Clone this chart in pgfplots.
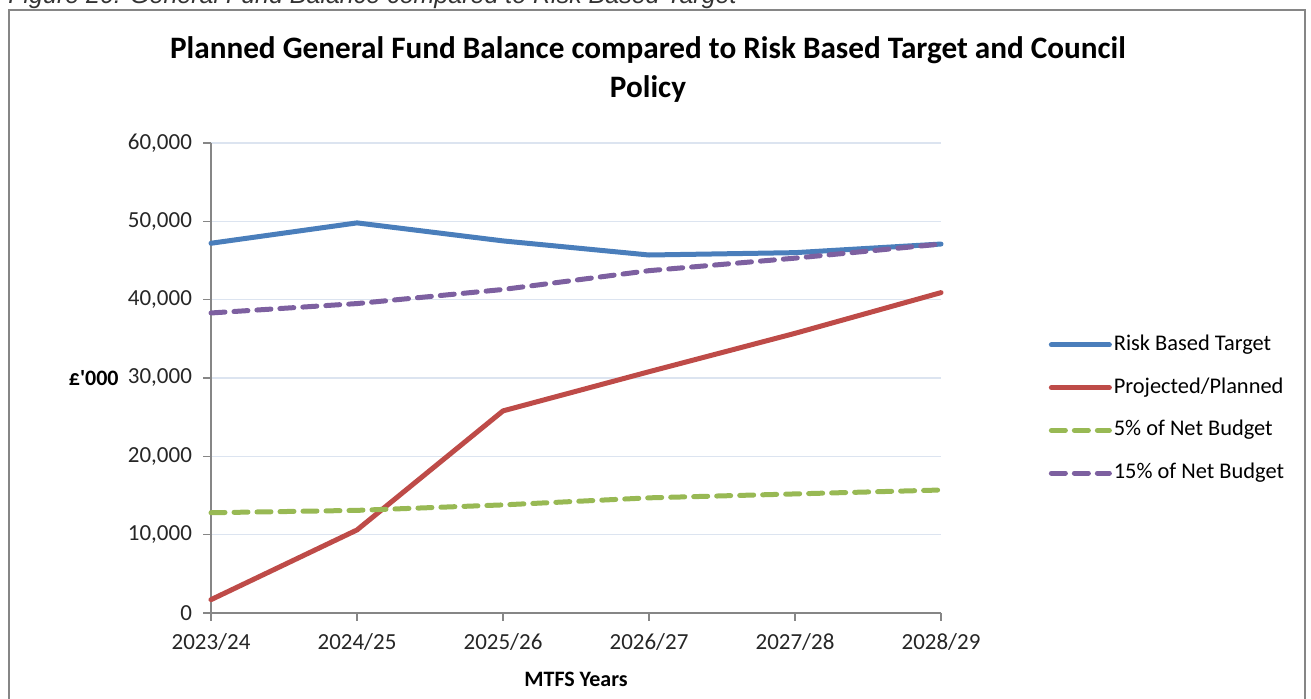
\documentclass[border=0pt]{standalone}
\usepackage{fontspec}
\setmainfont{Carlito}
\newfontfamily\capfont{Liberation Sans}
\newfontfamily\rawfont{Carlito}[Ligatures=TeXOff]
\usepackage{pgfplots}
\pgfplotsset{compat=1.18}
\definecolor{cblue}{HTML}{4A7EBB}
\definecolor{cred}{HTML}{BE4B48}
\definecolor{cgreen}{HTML}{98B954}
\definecolor{cpurple}{HTML}{7D60A0}
\definecolor{gridc}{HTML}{DCE4F0}
\definecolor{axc}{HTML}{868686}
\begin{document}
\begin{tikzpicture}[x=0.5pt,y=0.5pt]
\useasboundingbox (0,0) rectangle (1311,699);
\begin{scope}
\clip (0,0) rectangle (1311,699);
\node[anchor=base west, inner sep=0pt, font=\capfont\itshape\fontsize{12.5pt}{14pt}\selectfont, text=black!80] at (8,695) {Figure 20: General Fund Balance compared to Risk Based Target};
\draw[axc, line width=1pt] (9,-10) rectangle (1305,689);
\end{scope}
\node[font=\bfseries\fontsize{15.6pt}{19.5pt}\selectfont, align=center, anchor=center] at (648,629) {Planned General Fund Balance compared to Risk Based Target and Council\\Policy};
\node[font=\rawfont\bfseries\fontsize{11pt}{13pt}\selectfont, anchor=east, inner sep=0pt] at (119,321) {£'000};
\node[font=\bfseries\fontsize{11pt}{13pt}\selectfont, anchor=center, inner sep=0pt] at (576,20) {MTFS Years};
\begin{axis}[
  at={(105.5pt,43pt)}, anchor=south west,
  scale only axis, width=365pt, height=235pt,
  xmin=0, xmax=5, ymin=0, ymax=60000,
  axis lines=left, axis line style={axc, line width=0.75pt, -},
  xtick={0,1,2,3,4,5},
  xticklabels={2023/24,2024/25,2025/26,2026/27,2027/28,2028/29},
  ytick={0,10000,20000,30000,40000,50000,60000},
  scaled y ticks=false,
  yticklabel style={xshift=-2pt, /pgf/number format/.cd, fixed, 1000 sep={,}, assume math mode=true},
  xticklabel style={yshift=-2.5pt},
  tick align=outside, major tick length=4pt,
  tick style={axc, line width=0.75pt},
  ymajorgrids, major grid style={gridc, line width=0.75pt},
  tick label style={font=\fontsize{11.5pt}{13pt}\selectfont, text=black!85},
  clip=false,
  legend style={at={(1.139,0.434)}, anchor=west, draw=none, fill=none,
    font=\fontsize{11.2pt}{13pt}\selectfont, row sep=8.9pt,
    nodes={inner sep=1pt, text height=8pt, text depth=2.5pt}},
  legend cell align=left,
  legend image code/.code={\draw[#1] (0pt,0pt) -- (29pt,0pt);},
]
\addplot[cblue, line width=2.5pt, line cap=round, line join=round] coordinates {(0,47200) (1,49800) (2,47500) (3,45700) (4,46000) (5,47100)};
\addlegendentry{Risk Based Target}
\addplot[cred, line width=2.5pt, line cap=round, line join=round] coordinates {(0,1700) (1,10600) (2,25800) (3,30800) (4,35700) (5,40900)};
\addlegendentry{Projected/Planned}
\addplot[cgreen, line width=2.5pt, line cap=round, dash pattern=on 7pt off 4.5pt] coordinates {(0,12800) (1,13100) (2,13800) (3,14700) (4,15200) (5,15700)};
\addlegendentry{5\% of Net Budget}
\addplot[cpurple, line width=2.5pt, line cap=round, dash pattern=on 7pt off 4.5pt] coordinates {(0,38300) (1,39500) (2,41300) (3,43700) (4,45300) (5,47100)};
\addlegendentry{15\% of Net Budget}
\end{axis}
\end{tikzpicture}
\end{document}
